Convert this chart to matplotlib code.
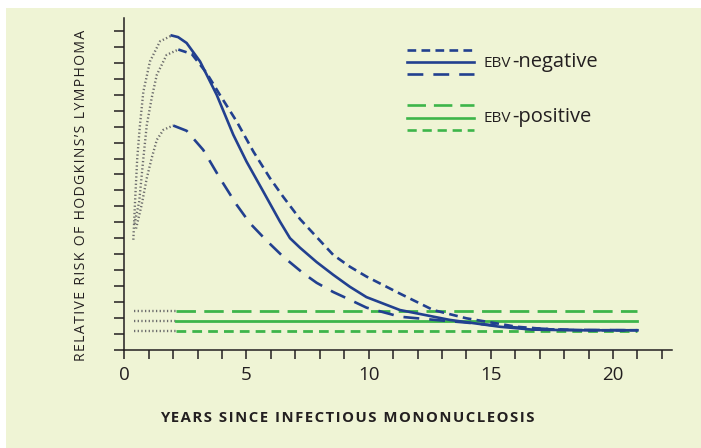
import numpy as np
import matplotlib
matplotlib.use("Agg")
import matplotlib.pyplot as plt
from matplotlib.patches import Rectangle

# EBV-negative curves, years vs relative risk
solid_x = [1.94, 2.2, 2.55, 3.1, 3.78, 4.46, 5.0, 5.69, 6.37, 6.78, 7.19, 7.87, 8.55, 9.23, 9.91, 11.28, 13.32, 15.37, 16.7, 18.5, 21.0]
solid_y = [19.72, 19.62, 19.25, 18.09, 16.0, 13.49, 11.81, 9.92, 8.04, 7.0, 6.4, 5.5, 4.7, 3.95, 3.3, 2.49, 1.87, 1.44, 1.26, 1.22, 1.22]

short_x = [2.21, 2.76, 3.37, 3.91, 4.6, 5.28, 5.96, 6.5, 7.19, 7.6, 8.55, 9.23, 9.91, 11.28, 12.64, 14.0, 16.05, 17.4, 19.0, 21.0]
short_y = [18.84, 18.56, 17.36, 16.0, 14.32, 12.44, 10.77, 9.6, 8.2, 7.52, 5.95, 5.21, 4.59, 3.52, 2.49, 1.97, 1.44, 1.28, 1.22, 1.22]

long_x = [2.0, 2.55, 3.23, 3.91, 4.6, 5.14, 5.82, 6.5, 7.32, 7.87, 8.55, 9.1, 9.91, 11.28, 12.64, 14.0, 16.0, 18.0, 21.0]
long_y = [14.07, 13.74, 12.54, 10.77, 9.09, 7.94, 6.85, 5.84, 4.8, 4.2, 3.62, 3.23, 2.64, 2.07, 1.88, 1.7, 1.4, 1.25, 1.22]

# early (dotted) part of each EBV-negative curve
rise_solid_x = [0.37, 0.44, 0.53, 0.64, 0.78, 1.05, 1.46, 1.94]
rise_solid_y = [6.9, 9.3, 12.02, 14.1, 16.2, 18.09, 19.35, 19.72]
rise_short_x = [0.42, 0.61, 0.78, 0.92, 1.12, 1.33, 1.73, 2.21]
rise_short_y = [7.9, 9.3, 12.02, 14.1, 15.79, 17.25, 18.5, 18.84]
rise_long_x = [0.48, 0.71, 0.92, 1.12, 1.33, 1.6, 2.0]
rise_long_y = [7.6, 9.09, 10.77, 12.02, 13.17, 13.8, 14.07]

# EBV-positive: flat lines
pos_start, pos_split, pos_end = 0.4, 2.1, 21.0
pos_long, pos_solid, pos_short = 2.45, 1.82, 1.19

blue = "#22408f"
green = "#3db54a"
grey = "#6d6d6d"
ink = "#231f20"
bg = "#eff4d5"

plt.rcParams["font.family"] = ["Open Sans", "DejaVu Sans"]


def spaced(s):
    return "\u200a".join(s)


fig = plt.figure(figsize=(7.01, 4.48), dpi=100)
fig.patches.append(Rectangle((6 / 701, 0), 695 / 701, 440 / 448, transform=fig.transFigure,
                             facecolor=bg, edgecolor="none", zorder=-10))

ax = fig.add_axes([124.3 / 701, (448 - 349.7) / 448, 547.4 / 701, 331.4 / 448])
ax.set_facecolor("none")

dot = dict(color=grey, lw=1.7, linestyle=(0, (0.55, 1.0)))
ax.plot(rise_solid_x, rise_solid_y, **dot)
ax.plot(rise_short_x, rise_short_y, **dot)
ax.plot(rise_long_x, rise_long_y, **dot)
for lvl in (pos_long, pos_solid, pos_short):
    ax.plot([pos_start, pos_split], [lvl, lvl], **dot)

ls_gl = (0, (7, 3))
ls_gs = (0, (3.5, 2.2))
ax.plot([pos_split, pos_end], [pos_long, pos_long], color=green, lw=2.0, linestyle=ls_gl)
ax.plot([pos_split, pos_end], [pos_solid, pos_solid], color=green, lw=2.0)
ax.plot([pos_split, pos_end], [pos_short, pos_short], color=green, lw=2.0, linestyle=ls_gs)

ls_bs = (0, (3.3, 2.0))
ls_bl = (0, (6, 3.8))
ax.plot(short_x, short_y, color=blue, lw=1.9, linestyle=ls_bs)
ax.plot(long_x, long_y, color=blue, lw=1.9, linestyle=ls_bl)
ax.plot(solid_x, solid_y, color=blue, lw=1.9)

# hand-drawn legend
lx = [0.516, 0.639]
legend_rows = [(0.904, blue, ls_bs), (0.867, blue, "-"), (0.831, blue, ls_bl),
               (0.738, green, ls_gl), (0.700, green, "-"), (0.663, green, ls_gs)]
for yy, c, ls in legend_rows:
    ax.plot(lx, [yy, yy], transform=ax.transAxes, color=c, lw=1.9, linestyle=ls, clip_on=False)

fig.canvas.draw()
for yy, word in [(0.852, "-negative"), (0.688, "-positive")]:
    t1 = ax.text(0.656, yy, "EBV", transform=ax.transAxes, fontsize=11, color=ink,
                 va="baseline")
    fig.canvas.draw()
    bb = t1.get_window_extent()
    x2 = ax.transAxes.inverted().transform((bb.x1 + 1, bb.y0))[0]
    ax.text(x2, yy, word, transform=ax.transAxes, fontsize=14.5, color=ink, va="baseline")

ax.set_xlim(0, 22.4)
ax.set_ylim(0, 20.8)
for s in ("top", "right"):
    ax.spines[s].set_visible(False)
for s in ("left", "bottom"):
    ax.spines[s].set_color(ink)
    ax.spines[s].set_linewidth(1.1)

ax.set_xticks(np.arange(0, 23))
ax.set_xticklabels([str(v) if v % 5 == 0 else "" for v in range(23)])
ax.set_yticks(np.arange(0, 21))
ax.set_yticklabels([])
ax.tick_params(axis="x", direction="out", length=6.5, width=1.1, color=ink, labelsize=13.5,
               labelcolor=ink, pad=5)
ax.tick_params(axis="y", direction="out", length=7.2, width=1.1, color=ink)

fig.text(347.5 / 701, 1 - 418.3 / 448, spaced("YEARS SINCE INFECTIOUS MONONUCLEOSIS"),
         ha="center", va="center", fontsize=10.7, fontweight="bold", color=ink)
fig.text(81.5 / 701, 1 - 195 / 448, spaced("RELATIVE RISK OF HODGKINS\u2019S LYMPHOMA"),
         ha="center", va="center", rotation=90, fontsize=10.1, color=ink)

fig.savefig("out.png", dpi=100, facecolor="white")
